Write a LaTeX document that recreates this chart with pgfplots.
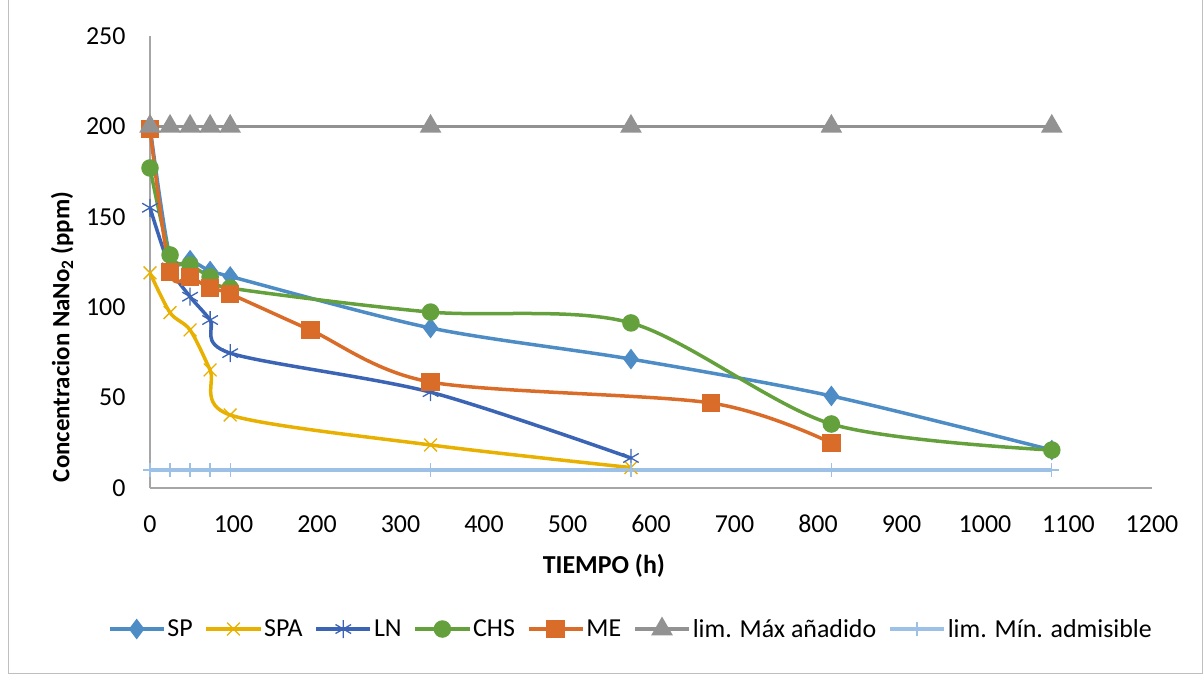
\documentclass[border=0pt]{standalone}
\usepackage{fontspec}
\setmainfont{Carlito}
\usepackage{pgfplots}
\pgfplotsset{compat=1.18}
\definecolor{cSP}{HTML}{4E8CC6}
\definecolor{cSPA}{HTML}{E8B000}
\definecolor{cLN}{HTML}{3C64B4}
\definecolor{cCHS}{HTML}{64A03C}
\definecolor{cME}{HTML}{DA6C2A}
\definecolor{cMax}{HTML}{929292}
\definecolor{cMin}{HTML}{9DC0E6}
\definecolor{axgray}{HTML}{A6A6A6}
\definecolor{bordergray}{HTML}{BFBFBF}
\begin{document}
\begin{tikzpicture}
\useasboundingbox (0,0) rectangle (1203bp,674bp);
\draw[bordergray, line width=1bp] (8bp,1bp) rectangle (1202bp,674bp);
\begin{axis}[
  at={(150bp,186bp)}, anchor=south west,
  scale only axis, width=1002bp, height=452bp,
  xmin=0, xmax=1200, ymin=0, ymax=250,
  axis x line=bottom, axis y line=left,
  axis line style={-, draw=axgray, line width=1.3bp},
  xtick={0,100,...,1200}, ytick={0,50,...,250},
  major tick length=0pt,
  /pgf/number format/assume math mode=true,
  /pgf/number format/1000 sep={},
  tick label style={font=\fontsize{26}{30}\selectfont},
  xticklabel style={anchor=center, yshift=-36bp},
  yticklabel style={anchor=east, xshift=-21bp},
  xlabel={\textbf{TIEMPO (h)}},
  xlabel style={font=\fontsize{26}{30}\selectfont, at={(axis description cs:0.453,0)}, anchor=center, yshift=-78bp},
  ylabel={\textbf{Concentracion NaNo\textsubscript{2} (ppm)}},
  ylabel style={font=\fontsize{25}{30}\selectfont, at={(axis description cs:-0.0878,0.334)}, anchor=center},
  clip=false,
  every axis plot/.append style={line width=3.5bp, smooth, tension=0.5},
  legend style={draw=none, fill=none, at={(axis description cs:0.48,-0.312)}, anchor=center,
    font=\fontsize{26}{30}\selectfont, legend columns=7,
    /tikz/every even column/.append style={column sep=10bp},
    /tikz/every odd column/.append style={column sep=0bp}},
  legend image code/.code={\draw[mark repeat=2,mark phase=2] plot coordinates {(0bp,0bp)(27bp,0bp)(54bp,0bp)};},
]
\addplot[color=cSP, mark=diamond*, mark size=7.5bp, mark options={solid}] coordinates {
(0,200) (24,128) (48,126) (72,120) (96,117) (336,88.5) (576,71.3) (816,50.9) (1080,21)};
\addlegendentry{SP}
\addplot[color=cSPA, mark=x, mark size=9bp, mark options={solid, line width=1.3bp}] coordinates {
(0,119) (24,97) (48,87.4) (72,65.3) (96,40.4) (336,23.8) (576,11.3)};
\addlegendentry{SPA}
\addplot[color=cLN, mark=asterisk, mark size=9bp, mark options={solid, line width=1.3bp}] coordinates {
(0,155) (24,122) (48,105.8) (72,92.9) (96,74.6) (336,53) (576,16.6)};
\addlegendentry{LN}
\addplot[color=cCHS, mark=*, mark size=7bp, mark options={solid}] coordinates {
(0,177) (24,128.9) (48,123.3) (72,116.7) (96,110.6) (336,97.3) (576,91.3) (816,35.4) (1080,21)};
\addlegendentry{CHS}
\addplot[color=cME, mark=square*, mark size=7.5bp, mark options={solid}] coordinates {
(0,198.5) (24,119.5) (48,116.7) (72,110.6) (96,107.3) (192,87.4) (336,58.6) (672,47) (816,24.9)};
\addlegendentry{ME}
\addplot[color=cMax, mark=triangle*, mark size=9bp, mark options={solid}] coordinates {
(0,200) (24,200) (48,200) (72,200) (96,200) (336,200) (576,200) (816,200) (1080,200)};
\addlegendentry{lim. Máx añadido}
\addplot[color=cMin, mark=+, mark size=7bp, mark options={solid, line width=1.3bp}] coordinates {
(0,10) (24,10) (48,10) (72,10) (96,10) (336,10) (576,10) (816,10) (1080,10)};
\addlegendentry{lim. Mín. admisible}
\end{axis}
\end{tikzpicture}
\end{document}
